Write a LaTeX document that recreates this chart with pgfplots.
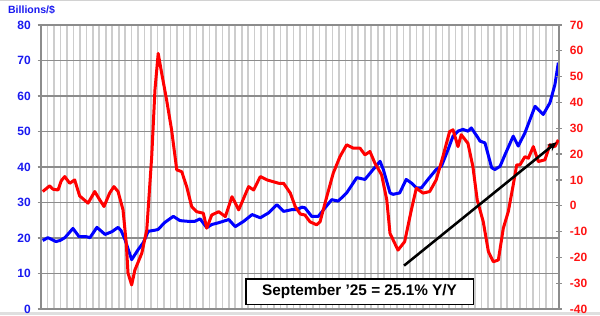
\documentclass[border=0pt]{standalone}
\usepackage{pgfplots}
\pgfplotsset{compat=1.18}
\usepackage{fontspec}
\setmainfont{Liberation Sans}
\usetikzlibrary{arrows.meta}
\definecolor{lineblue}{RGB}{0,0,255}
\definecolor{linered}{RGB}{255,0,0}
\definecolor{tickblue}{RGB}{25,25,240}
\definecolor{tickred}{RGB}{255,20,20}
\definecolor{vgrid}{RGB}{205,205,205}
\definecolor{hgrid}{RGB}{140,140,140}
\begin{document}
\begin{tikzpicture}
\path[use as bounding box] (-30.75pt,-4.5pt) rectangle (419.25pt,231.75pt);
\fill[gray!25] (-30.75pt,-4.5pt) rectangle (419.25pt,-2.4pt);
\draw[gray!35, line width=0.8pt] (-30.75pt,231.35pt) -- (419.25pt,231.35pt);
\begin{axis}[
  scale only axis, width=388.5pt, height=213pt,
  xmin=0, xmax=240, ymin=0, ymax=80,
  xtick={0,3,...,240}, xticklabels={},
  ytick={0,10,...,80},
  xmajorgrids, ymajorgrids,
  x grid style={color=vgrid, line width=1.2pt},
  y grid style={color=hgrid, line width=1.1pt},
  axis line style={color=hgrid, line width=1.1pt},
  major x tick style={draw=none},
  ytick pos=left, tick align=outside, major tick length=2.5pt,
  y tick style={color=hgrid, line width=1.1pt},
  yticklabel style={font=\fontsize{9}{9}\selectfont\bfseries, text=tickblue, inner sep=0pt, xshift=-5pt},
  /pgf/number format/assume math mode=true,
]
\addplot[lineblue, line width=2.25pt, line join=round] coordinates {
(0.8,19.3)(3.2,20.1)(6.9,19.0)(8.8,19.3)(11.1,20.1)(14.8,22.7)(17.6,20.4)(20.8,20.4)(22.7,20.1)(25.9,23.0)(29.7,21.0)(32.9,21.8)(35.7,23.0)(37.1,22.1)(38.9,19.6)(42.0,13.9)(45.1,16.8)(47.4,18.7)(49.7,21.9)(52.8,22.2)(54.2,22.4)(57.4,24.4)(61.3,26.1)(64.4,24.9)(68.1,24.7)(71.3,24.7)(73.7,25.4)(76.8,22.9)(79.1,23.8)(82.3,24.3)(87.0,25.2)(90.0,23.2)(93.9,24.7)(97.8,26.6)(101.6,25.7)(105.5,27.1)(109.3,29.4)(112.4,27.5)(116.3,28.0)(118.6,28.0)(120.9,28.7)(122.3,28.5)(125.4,26.1)(128.5,26.1)(131.6,28.5)(134.7,30.8)(137.7,30.4)(141.6,32.7)(146.3,37.0)(150.1,36.5)(153.2,38.8)(157.1,41.6)(158.6,39.3)(161.7,32.7)(163.1,32.3)(166.2,32.7)(169.2,36.5)(171.6,35.5)(173.9,34.1)(176.2,34.1)(179.3,36.5)(183.1,39.3)(185.5,40.2)(188.6,44.9)(190.9,48.7)(193.2,50.1)(195.5,50.6)(197.8,50.1)(199.4,51.0)(202.5,48.2)(203.4,47.3)(205.7,46.8)(208.8,39.8)(210.3,39.3)(212.7,40.2)(215.0,43.5)(218.8,48.7)(221.1,45.9)(224.2,49.6)(228.9,57.1)(232.7,54.8)(235.8,58.1)(238.1,63.2)(239.7,69.4)
};
\end{axis}
\begin{axis}[
  scale only axis, width=388.5pt, height=213pt,
  xmin=0, xmax=240, ymin=-40, ymax=70,
  axis x line=none, axis y line*=right,
  ytick={-40,-30,...,70},
  tick align=center, major tick length=4pt,
  y tick style={color=hgrid, line width=1pt},
  axis line style={color=hgrid, line width=1.1pt},
  yticklabel style={font=\fontsize{9}{9}\selectfont\bfseries, text=tickred, inner sep=0pt, xshift=6pt},
  /pgf/number format/assume math mode=true,
]
\addplot[linered, line width=2.25pt, line join=round] coordinates {
(0.8,5.5)(4.0,7.7)(5.6,6.4)(7.9,6.1)(9.4,9.7)(11.0,11.3)(13.3,8.7)(15.6,10.0)(17.9,3.8)(21.8,1.0)(24.9,5.5)(27.2,2.3)(29.2,-0.3)(31.8,4.9)(33.8,7.4)(35.7,5.5)(38.0,-1.6)(39.5,-14.5)(40.3,-26.0)(42.0,-30.7)(43.5,-24.9)(46.7,-18.4)(49.0,-9.4)(51.3,19.1)(52.8,44.9)(54.3,59.0)(55.9,51.4)(58.2,41.0)(60.5,29.4)(62.9,13.9)(65.2,13.2)(67.5,7.4)(69.8,-0.3)(72.1,-2.3)(75.2,-2.9)(76.8,-8.7)(79.1,-3.6)(82.3,-2.3)(85.4,-4.2)(88.5,3.5)(91.6,-1.6)(96.2,7.4)(98.5,6.1)(101.6,11.3)(104.7,10.0)(110.1,8.7)(112.4,8.7)(115.5,4.9)(117.8,-0.3)(120.1,-3.2)(122.3,-3.6)(124.6,-6.2)(127.7,-7.4)(129.3,-6.2)(132.4,3.5)(135.4,12.6)(138.5,19.0)(141.6,23.6)(144.7,22.3)(147.8,22.3)(150.1,19.7)(152.4,21.0)(154.7,16.5)(157.8,12.0)(160.2,2.3)(161.7,-10.7)(165.4,-17.2)(168.5,-13.9)(171.6,-1.6)(173.9,6.8)(177.0,4.9)(180.1,5.5)(183.1,10.0)(186.2,19.0)(189.3,28.7)(190.9,29.4)(193.2,22.9)(194.7,27.5)(197.8,24.2)(200.1,15.2)(202.1,2.3)(204.9,-6.2)(207.3,-17.8)(209.6,-21.7)(211.9,-21.0)(214.2,-8.7)(216.5,-2.3)(218.8,8.1)(220.4,15.8)(221.9,15.8)(224.2,19.0)(225.8,18.4)(228.1,22.9)(230.4,17.1)(233.5,17.8)(235.8,23.6)(238.1,22.9)(239.7,25.5)
};
\draw[black, line width=1.9pt, -{Stealth[length=7pt,width=6pt]}] (axis cs:168.2,-23.2) -- (axis cs:238.9,24.6);
\node[draw=black, line width=1.2pt, fill=white, minimum width=170.7pt, minimum height=19pt, inner sep=0pt, font=\fontsize{11.5}{11.5}\selectfont\bfseries] at (axis cs:147.6,-33.3) {September ’25 = 25.1\% Y/Y};
\end{axis}
\node[font=\fontsize{7.9}{7.9}\selectfont\bfseries, text=tickblue, inner sep=0pt] at (-7.1pt,224.6pt) {Billions/\$};
\end{tikzpicture}
\end{document}
